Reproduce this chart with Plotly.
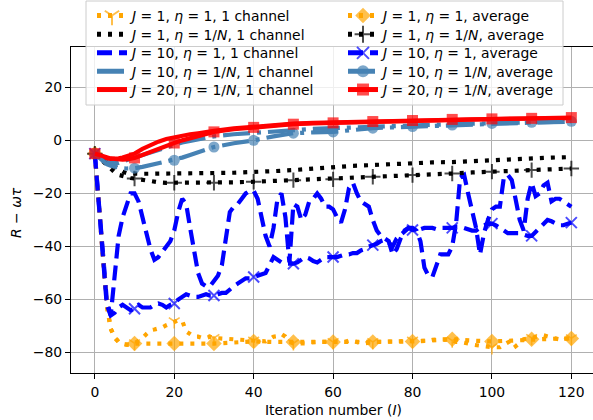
import plotly.graph_objects as go

# ---------------- data ----------------
# per-iteration series (0..120)
iters = list(range(121))

orange_1ch = [-5, -24, -44, -62, -71, -74, -76, -76.5, -77, -77,
              -76.5, -75.5, -74.5, -73, -71.6, -71.3, -71, -70.5, -69.7, -69,
              -68.2, -67.8, -68, -72, -73, -74, -74, -74.5, -74.5, -74,
              -74.5, -74.6, -74.8, -75, -75, -75.2, -75, -75, -75.2, -75.5,
              -75.5, -75.5, -75.8, -75.8, -75, -74, -73.8, -73, -74, -76,
              -76.5, -76.5, -76.6, -76.5, -76.2, -76, -76, -76, -76, -76,
              -76, -76, -76, -76, -75.5, -75.5, -76, -76.5, -76.5, -76.2,
              -76, -76, -76, -76, -76, -75.8, -75.8, -75.7, -75.6, -75.5,
              -75.5, -75.6, -75.7, -75.8, -75.5, -75.2, -75, -75, -75, -75,
              -75.5, -76, -76, -76.2, -76.6, -77, -77.2, -77.2, -77.5, -78,
              -78, -78, -78, -77, -76, -75.4, -77.6, -76.5, -75, -74.7,
              -74.5, -74.2, -73.8, -73.5, -74, -74.5, -74.7, -75, -75, -74.8,
              -74.6]

blue_1ch = [-5, -22, -42, -60, -66, -50, -36, -29, -24, -20,
            -20, -23, -29, -35, -41, -45, -44, -42, -40, -38,
            -34, -27, -22, -24, -33, -42, -50, -54, -55, -55,
            -53, -51, -47, -36, -27, -25, -24, -22, -20, -19,
            -19, -22, -30, -36, -40, -33, -22, -20, -29, -46,
            -24, -25, -30, -28, -23, -22, -20, -22, -25, -25,
            -26, -29, -31, -26, -18, -16, -20, -23, -24, -25,
            -30, -34, -36, -37, -38, -43, -41, -37, -34, -33,
            -33, -34, -38, -48, -51, -51.5, -47, -43, -43, -43,
            -40, -31, -14, -13, -20, -27, -33, -43, -35, -30,
            -26, -25, -25, -14, -13, -15, -22, -30, -34, -22,
            -16, -21, -20, -17, -16, -23, -22, -22, -23, -24,
            -25]

blue_avg = [-5, -24, -44, -62, -66, -65, -63, -62, -63, -64,
            -63.5, -62, -63, -63, -63, -62, -61.5, -62, -63, -62,
            -61.5, -60, -59, -58, -58.5, -59, -59, -58.5, -58, -58.5,
            -58.5, -58, -57.5, -57.5, -56, -55, -54, -53, -52, -52,
            -51.5, -51, -50.5, -50, -47, -44, -45, -46, -46.5, -46.5,
            -46.5, -46, -45, -44, -44.5, -45.5, -46, -45, -44, -44,
            -44, -44, -43.5, -43, -43, -42.5, -42.5, -41.5, -41, -40,
            -39.5, -39, -38, -37.5, -38.5, -40, -37, -35.5, -34, -33,
            -33.8, -34, -33.5, -33, -33, -33, -33.5, -33, -33, -33,
            -33, -32.5, -32.5, -33, -33.5, -34, -34, -33, -32, -31.5,
            -31.4, -32, -33, -34, -35, -35, -35, -35, -35.5, -36,
            -36, -34.5, -33, -31.5, -30, -30.5, -31.4, -32, -32, -31.5,
            -31]

# coarser iteration grid for the smooth series
iters_c = [0, 1, 2, 3, 4, 5, 6, 7, 8, 9, 10, 12, 14, 16, 18, 20, 22, 24, 26, 28,
           30, 35, 40, 45, 50, 55, 60, 65, 70, 75, 80, 85, 90, 95, 100, 105, 110, 115, 120]

orange_avg = [-5, -24, -44, -62, -71, -74.5, -76, -76.8, -77, -77, -76.6, -76.6, -76.5, -76.6,
              -76.7, -76.6, -76.5, -76.4, -76.5, -76.6, -76.6, -76.2, -75.8, -76, -76, -76.2,
              -76, -76, -76, -75.9, -75.8, -75.5, -75, -75.5, -75.8, -75.5, -75, -74.8, -74.7]

black_1ch = [-5, -6, -7, -8, -9, -10, -11, -11.8, -12.3, -12.5, -12.5, -12.6, -12.6, -12.6,
             -12.5, -12.5, -12.5, -12.4, -12.4, -12.3, -12.3, -12.2, -12, -11.6, -11.2, -10.6,
             -10, -9.6, -9.3, -8.9, -8.5, -8.3, -8.2, -7.8, -7.4, -7, -6.7, -6.5, -6.3]

black_avg = [-5, -6.5, -8, -9.5, -11, -12, -13, -13.5, -14, -14.2, -14.4, -15, -15.5, -15.8,
             -16, -16, -16.1, -16.1, -16.1, -16, -16, -15.8, -15.6, -15.3, -15, -14.9, -14.7,
             -14.2, -13.7, -13.4, -13.1, -12.8, -12.5, -12.1, -11.8, -11.5, -11.2, -10.9, -10.6]

steel_1ch = [-5, -6.3, -7.5, -8.2, -8.5, -8.6, -8.5, -8.1, -7.6, -7, -6.5, -5.5, -4.5, -3.5,
             -2.5, -1.5, -0.8, -0.2, 0.5, 1, 1.5, 2.3, 2.9, 3.4, 3.9, 4.3, 4.6, 4.9, 5.2, 5.5,
             5.7, 5.9, 6.1, 6.3, 6.5, 6.7, 6.8, 6.9, 7]

steel_avg = [-5, -6.5, -8, -9, -9.6, -10, -10.3, -10.5, -10.6, -10.6, -10.5, -10, -9.3, -8.6,
             -8, -7.5, -6.5, -5.5, -4.4, -3.4, -2.5, -1.1, 0, 1.5, 2.7, 3, 3.2, 3.9, 4.6, 4.9,
             5.2, 5.5, 5.8, 6.1, 6.4, 6.6, 6.8, 7, 7.2]

red_1ch = [-5, -5.7, -6.3, -6.7, -7, -7, -6.8, -6.5, -6, -5.5, -5, -3.2, -1.7, -0.5, 0.5, 1.2,
           1.8, 2.3, 2.7, 3.2, 3.6, 4.5, 5.2, 5.8, 6.3, 6.6, 6.8, 7, 7.2, 7.4, 7.5, 7.7, 7.8,
           7.9, 8, 8.1, 8.2, 8.3, 8.4]

red_avg = [-5, -5.5, -6, -6.5, -6.8, -7, -7.2, -7.3, -7.2, -7, -6.6, -5.5, -4.3, -3, -1.9, -1,
           0, 0.9, 1.8, 2.6, 3.2, 4.2, 4.9, 5.5, 6.1, 6.4, 6.6, 6.9, 7.1, 7.3, 7.5, 7.7, 7.9,
           8, 8.1, 8.2, 8.3, 8.45, 8.6]

labels_1ch = [
    "<i>J</i> = 1, <i>η</i> = 1, 1 channel",
    "<i>J</i> = 1, <i>η</i> = 1/<i>N</i>, 1 channel",
    "<i>J</i> = 10, <i>η</i> = 1, 1 channel",
    "<i>J</i> = 10, <i>η</i> = 1/<i>N</i>, 1 channel",
    "<i>J</i> = 20, <i>η</i> = 1/<i>N</i>, 1 channel",
]
labels_avg = [
    "<i>J</i> = 1, <i>η</i> = 1, average",
    "<i>J</i> = 1, <i>η</i> = 1/<i>N</i>, average",
    "<i>J</i> = 10, <i>η</i> = 1, average",
    "<i>J</i> = 10, <i>η</i> = 1/<i>N</i>, average",
    "<i>J</i> = 20, <i>η</i> = 1/<i>N</i>, average",
]

x_ticks = [0, 20, 40, 60, 80, 100, 120]
y_ticks = [-80, -60, -40, -20, 0, 20]

# ---------------- styling ----------------
FONT = "DejaVu Sans"
LW = 4.2
DOT = "4px,7px"
DASH = "15px,7px"
DASHDOT = "27px,7px,4px,7px"

ORANGE = "#FFA500"
BLACK = "#000000"
BLUE = "#0000FF"
STEEL = "#4682B4"
RED = "#FF0000"

W, H = 593, 420
L, R, T, B = 71, 0, 47, 47
PW, PH = W - L - R, H - T - B


def px_x(px):
    return (px - L) / PW


def px_y(py):
    return (H - B - py) / PH


def msizes(xs, s):
    return [s if x % 10 == 0 else 0 for x in xs]


fig = go.Figure()
legend_ids = ["legend"] + ["legend%d" % i for i in range(2, 11)]


def add(idx, xs, ys, name, color, dash, symbol=None, size=0, mline=0):
    lid = legend_ids[idx]
    if symbol is None:
        fig.add_trace(go.Scatter(x=xs, y=ys, mode="lines", name=name, legend=lid,
                                 line=dict(color=color, width=LW, dash=dash)))
    else:
        fig.add_trace(go.Scatter(x=xs, y=ys, mode="lines+markers", name=name, legend=lid,
                                 line=dict(color=color, width=LW, dash=dash),
                                 marker=dict(symbol=symbol, size=msizes(xs, size), color=color,
                                             line=dict(color=color, width=mline))))


# one-channel curves (legend column 1)
add(0, iters, orange_1ch, labels_1ch[0], ORANGE, DOT, "y-down", 9, 1.6)
add(1, iters_c, black_1ch, labels_1ch[1], BLACK, DOT)
add(2, iters, blue_1ch, labels_1ch[2], BLUE, DASH)
add(3, iters_c, steel_1ch, labels_1ch[3], STEEL, DASHDOT)
add(4, iters_c, red_1ch, labels_1ch[4], RED, "solid")
# averages (legend column 2)
add(5, iters_c, orange_avg, labels_avg[0], ORANGE, DOT, "diamond", 12, 0)
add(6, iters_c, black_avg, labels_avg[1], BLACK, DOT, "cross-thin", 11, 2)
add(7, iters, blue_avg, labels_avg[2], BLUE, DASH, "x-thin", 11, 2)
add(8, iters_c, steel_avg, labels_avg[3], STEEL, DASHDOT, "circle", 11, 0)
add(9, iters_c, red_avg, labels_avg[4], RED, "solid", "square", 11, 0)

row_centers = [16, 34.7, 53.3, 71.7, 90]
col_left = [92, 343]
legends = {}
for i, lid in enumerate(legend_ids):
    col, row = divmod(i, 5)
    legends[lid] = dict(font=dict(family=FONT, size=13.9, color="black"),
                        bgcolor="rgba(0,0,0,0)", borderwidth=0, itemsizing="constant",
                        xref="paper", yref="paper", xanchor="left", yanchor="middle",
                        x=px_x(col_left[col]), y=px_y(row_centers[row]),
                        itemclick=False, itemdoubleclick=False)

fig.update_layout(
    width=W, height=H, autosize=False,
    margin=dict(l=L, r=R, t=T, b=B, pad=0, autoexpand=False),
    paper_bgcolor="white", plot_bgcolor="white",
    font=dict(family=FONT, size=13.9, color="black"),
    showlegend=True,
    xaxis=dict(range=[-6, -6 + PW / 3.971], tickmode="array", tickvals=x_ticks,
               showgrid=True, gridcolor="#b0b0b0", gridwidth=1, zeroline=False,
               showline=True, linecolor="black", linewidth=1.1, mirror=True,
               ticks="outside", ticklen=5, tickwidth=1.1, tickcolor="black",
               ticklabelstandoff=1,
               tickfont=dict(family=FONT, size=13.9, color="black")),
    yaxis=dict(range=[-87.7, 35.2], tickmode="array", tickvals=y_ticks,
               showgrid=True, gridcolor="#b0b0b0", gridwidth=1, zeroline=False,
               showline=True, linecolor="black", linewidth=1.1, mirror=False,
               ticks="outside", ticklen=5, tickwidth=1.1, tickcolor="black",
               tickfont=dict(family=FONT, size=13.9, color="black")),
    shapes=[dict(type="rect", xref="paper", yref="paper",
                 x0=px_x(86), x1=px_x(563), y0=px_y(105), y1=px_y(1),
                 line=dict(color="#cccccc", width=1), fillcolor="rgba(255,255,255,0.8)",
                 layer="above")],
    annotations=[
        dict(text="<i>R</i> − <i>ωτ</i>", xref="paper", yref="paper",
             x=px_x(16), y=px_y(213), xanchor="center", yanchor="middle",
             textangle=-90, showarrow=False, font=dict(family=FONT, size=13.9)),
        dict(text="Iteration number (<i>I</i>)", xref="paper", yref="paper",
             x=px_x(333), y=px_y(410), xanchor="center", yanchor="middle",
             showarrow=False, font=dict(family=FONT, size=13.9)),
    ],
    **legends,
)

fig.write_html("out.html", config={"displayModeBar": False},
               post_script="document.body.style.margin='0';")
